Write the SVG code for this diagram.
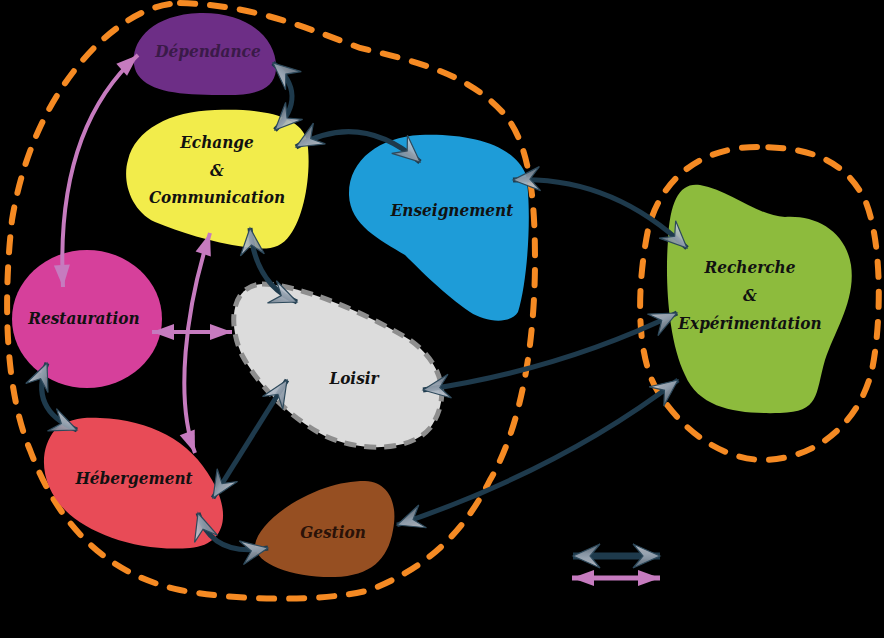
<svg xmlns="http://www.w3.org/2000/svg" width="884" height="638" viewBox="0 0 884 638">
<style>
.lbl{font-family:"DejaVu Serif Condensed","DejaVu Serif",serif;font-weight:bold;font-style:italic;font-size:17px;text-anchor:middle;fill:#111}
.zone{fill:none;stroke:#F58A23;stroke-width:6;stroke-dasharray:15 15;stroke-linecap:round}
.dk{fill:none;stroke:#1E3A4C;stroke-width:5;marker-start:url(#ad);marker-end:url(#ad)}
.pk{fill:none;stroke:#C67BBF;stroke-width:4;marker-start:url(#ap);marker-end:url(#ap)}
</style>
<defs>
<linearGradient id="gh" x1="0" y1="0" x2="0" y2="1">
<stop offset="0" stop-color="#C9D1DC"/><stop offset="1" stop-color="#6C7C8C"/>
</linearGradient>
<marker id="ad" markerUnits="userSpaceOnUse" markerWidth="32" markerHeight="28" viewBox="-29 -14 32 28" refX="0" refY="0" orient="auto-start-reverse" overflow="visible">
<path d="M0,0 L-27,-12 L-17,0 L-27,12 Z" fill="url(#gh)" fill-opacity="0.9" stroke="#2E4A5C" stroke-width="1.2" stroke-linejoin="miter"/>
</marker>
<marker id="ap" markerUnits="userSpaceOnUse" markerWidth="26" markerHeight="20" viewBox="-24 -10 26 20" refX="0" refY="0" orient="auto-start-reverse" overflow="visible">
<path d="M0,0 L-22,-8 L-22,8 Z" fill="#C67BBF"/>
</marker>
</defs>
<rect width="884" height="638" fill="#000"/>

<g id="zones">
<path class="zone" d="M180,3 C250,5 300,25 360,48 C420,62 470,75 505,115 C530,145 535,200 535,260 C535,330 525,420 490,480 C460,540 420,570 370,590 C320,603 230,600 180,590 C110,575 60,530 30,450 C5,390 3,300 12,220 C25,140 60,80 100,42 C130,15 155,4 180,3 Z"/>
<path class="zone" d="M757,147 C700,147 660,180 648,230 C636,290 636,360 660,395 C690,440 730,460 765,460 C820,458 860,420 872,370 C882,320 882,240 865,200 C845,160 810,147 757,147 Z"/>
</g>

<g id="dependance">
<path d="M200,13 C250,12 278,40 276,70 C274,90 255,96 220,95 C180,95 150,92 138,75 C125,55 140,15 200,13 Z" fill="#6D2E86"/>
<text class="lbl" x="208" y="57" style="fill:#3A1A48">Dépendance</text>
</g>

<g id="echange">
<path d="M215,110 C260,108 300,115 307,140 C312,170 305,215 290,235 C280,250 265,250 245,247 C210,242 180,232 155,222 C130,210 122,180 128,160 C135,130 170,111 215,110 Z" fill="#F2EC4B"/>
<text class="lbl" x="217" y="148">Echange</text>
<text class="lbl" x="217" y="176">&amp;</text>
<text class="lbl" x="217" y="203">Communication</text>
</g>

<g id="enseignement">
<path d="M420,135 C470,133 515,145 526,175 C532,210 528,280 518,312 C510,325 485,322 470,312 C445,295 420,270 405,255 C380,240 350,225 349,195 C348,160 380,137 420,135 Z" fill="#1E9CD8"/>
<text class="lbl" x="452" y="216">Enseignement</text>
</g>

<g id="recherche">
<path d="M700,185 C730,190 755,215 785,217 C815,215 845,230 851,265 C856,300 835,330 825,360 C815,395 820,412 780,413 C740,414 700,410 685,375 C668,340 665,280 668,240 C670,200 680,182 700,185 Z" fill="#8DBB3D"/>
<text class="lbl" x="750" y="273">Recherche</text>
<text class="lbl" x="750" y="301">&amp;</text>
<text class="lbl" x="750" y="329">Expérimentation</text>
</g>

<g id="restauration">
<ellipse cx="87" cy="319" rx="75" ry="69" fill="#D6409B"/>
<text class="lbl" x="84" y="324">Restauration</text>
</g>

<g id="loisir">
<path d="M262,284 C300,284 370,315 410,340 C445,365 450,400 430,428 C410,452 360,452 325,436 C290,418 258,385 242,355 C228,325 230,286 262,284 Z" fill="#DCDCDC" stroke="#8E8E8E" stroke-width="5" stroke-dasharray="12 8"/>
<text class="lbl" x="354" y="384">Loisir</text>
</g>

<g id="hebergement">
<path d="M100,418 C150,420 190,440 212,480 C232,515 225,545 190,548 C140,552 90,535 65,510 C40,485 38,450 55,430 C68,418 85,417 100,418 Z" fill="#E84B57"/>
<text class="lbl" x="134" y="484">Hébergement</text>
</g>

<g id="gestion">
<path d="M365,481 C390,482 398,505 393,530 C388,560 370,576 335,577 C295,578 255,565 255,545 C258,525 290,500 325,488 C340,483 352,481 365,481 Z" fill="#964F22"/>
<text class="lbl" x="333" y="538" style="fill:#2A1208">Gestion</text>
</g>

<g id="connectors">
<path class="pk" d="M63,287 Q55,130 138,55"/>
<path class="pk" d="M195,453 C175,400 185,310 210,233"/>
<path class="pk" d="M152,332 L232,332"/>
<path class="dk" d="M273,63 Q310,95 275,130"/>
<path class="dk" d="M296,147 Q360,110 420,162"/>
<path class="dk" d="M513,180 Q610,175 687,248"/>
<path class="dk" d="M423,390 Q560,370 677,313"/>
<path class="dk" d="M397,525 Q560,470 678,380"/>
<path class="dk" d="M250,228 Q255,285 297,302"/>
<path class="dk" d="M287,380 L213,498"/>
<path class="dk" d="M47,363 Q28,410 77,430"/>
<path class="dk" d="M198,513 Q212,558 268,548"/>
</g>

<g id="legend">
<path d="M573,556 L660,556" fill="none" stroke="#1E3A4C" stroke-width="7" marker-start="url(#ad)" marker-end="url(#ad)"/>
<path d="M572,578 L660,578" fill="none" stroke="#C67BBF" stroke-width="5" marker-start="url(#ap)" marker-end="url(#ap)"/>
</g>
</svg>
